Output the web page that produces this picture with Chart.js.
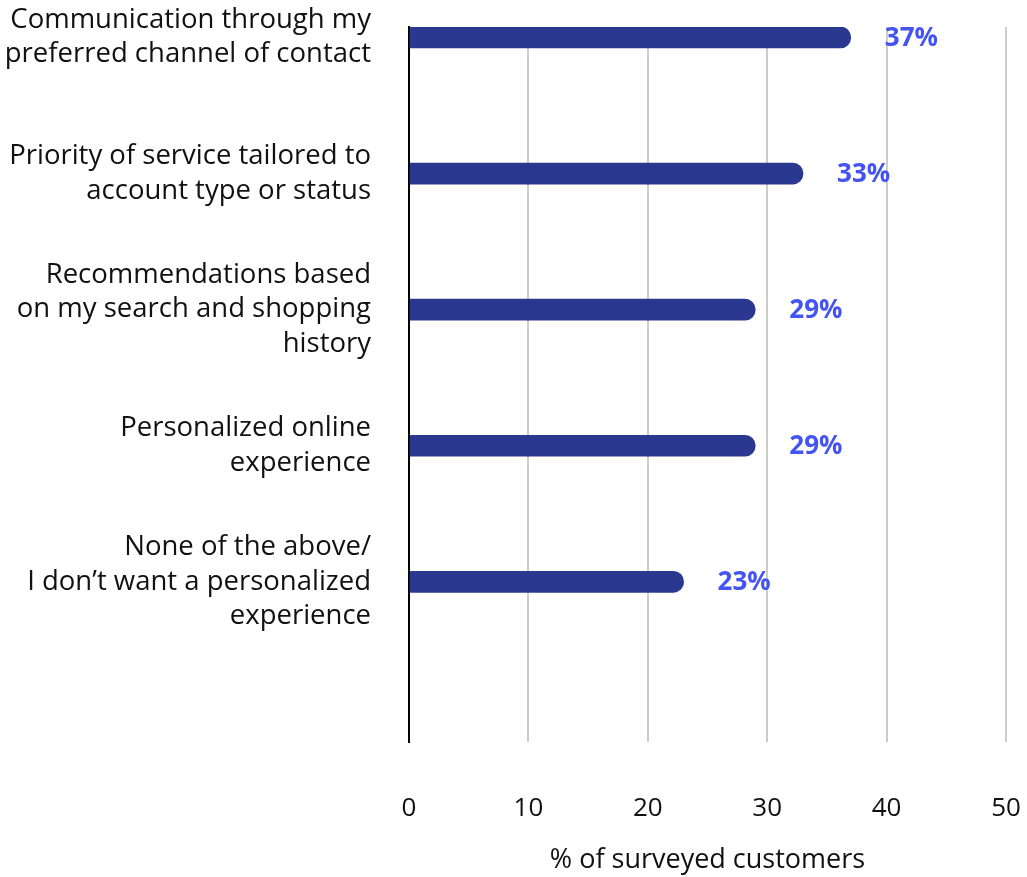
<!DOCTYPE html>
<html lang="en">
<head>
    <meta charset="UTF-8">
    <title>Personalization preferences</title>
    <script src="https://cdn.jsdelivr.net/npm/chart.js"></script>
    <style>
        html, body { margin: 0; padding: 0; background: #fff; }
        #wrap { width: 1027px; height: 877px; }
    </style>
</head>
<body>
    <div id="wrap"><canvas id="myChart"></canvas></div>

    <script>
        // data
        const categories = [
            ['Communication through my', 'preferred channel of contact'],
            ['Priority of service tailored to', 'account type or status'],
            ['Recommendations based', 'on my search and shopping', 'history'],
            ['Personalized online', 'experience'],
            ['None of the above/', 'I don\u2019t want a personalized', 'experience']
        ];
        const values = [37, 33, 29, 29, 23];
        const xTicks = [0, 10, 20, 30, 40, 50];
        const axisTitle = '% of surveyed customers';

        const fontFamily = '"Open Sans", sans-serif';

        // percent labels at the end of each bar
        const valueLabels = {
            id: 'valueLabels',
            afterDatasetsDraw(chart) {
                const ctx = chart.ctx;
                const meta = chart.getDatasetMeta(0);
                ctx.save();
                ctx.font = 'bold 26px ' + fontFamily;
                ctx.fillStyle = '#4353f4';
                ctx.textAlign = 'left';
                ctx.textBaseline = 'middle';
                meta.data.forEach((bar, i) => {
                    ctx.fillText(values[i] + '%', bar.x + 34, bar.y + 1);
                });
                ctx.restore();
            }
        };

        const ctx = document.getElementById('myChart');
        new Chart(ctx, {
            type: 'bar',
            data: {
                datasets: [{
                    data: values.map((v, i) => ({ x: v, y: i })),
                    backgroundColor: '#2b3890',
                    barThickness: 21,
                    borderRadius: 11
                }]
            },
            options: {
                indexAxis: 'y',
                responsive: true,
                maintainAspectRatio: false,
                animation: false,
                layout: { padding: { top: 27, right: 21, left: 0, bottom: 0 } },
                plugins: {
                    legend: { display: false },
                    tooltip: { enabled: false }
                },
                scales: {
                    x: {
                        type: 'linear',
                        min: 0,
                        max: 50,
                        afterBuildTicks: (s) => { s.ticks = xTicks.map(v => ({ value: v })); },
                        afterFit: (s) => { s.paddingLeft = 0; s.paddingRight = 0; },
                        grid: { color: '#cccccc', lineWidth: 2, drawTicks: true, tickLength: 51, tickColor: 'transparent' },
                        border: { display: false },
                        ticks: {
                            padding: 0,
                            color: '#111',
                            font: { family: fontFamily, size: 26 }
                        },
                        title: {
                            display: true,
                            text: axisTitle,
                            color: '#111',
                            font: { family: fontFamily, size: 27 },
                            padding: { top: 20, bottom: 0 }
                        }
                    },
                    y: {
                        type: 'linear',
                        reverse: true,
                        offset: false,
                        min: -0.077,
                        max: 5.18,
                        afterBuildTicks: (s) => { s.ticks = categories.map((c, i) => ({ value: i })); },
                        afterFit: (s) => { s.width = 409; s.paddingTop = 0; s.paddingBottom = 0; },
                        grid: { offset: false, color: 'transparent', drawOnChartArea: false, drawTicks: true, tickLength: 38, tickColor: 'transparent' },
                        border: { display: true, color: '#000', width: 2 },
                        ticks: {
                            padding: 0,
                            color: '#111',
                            callback: (v) => categories[v],
                            font: { family: fontFamily, size: 27.5, lineHeight: 1.25 }
                        }
                    }
                }
            },
            plugins: [valueLabels]
        });
    </script>
</body>
</html>
